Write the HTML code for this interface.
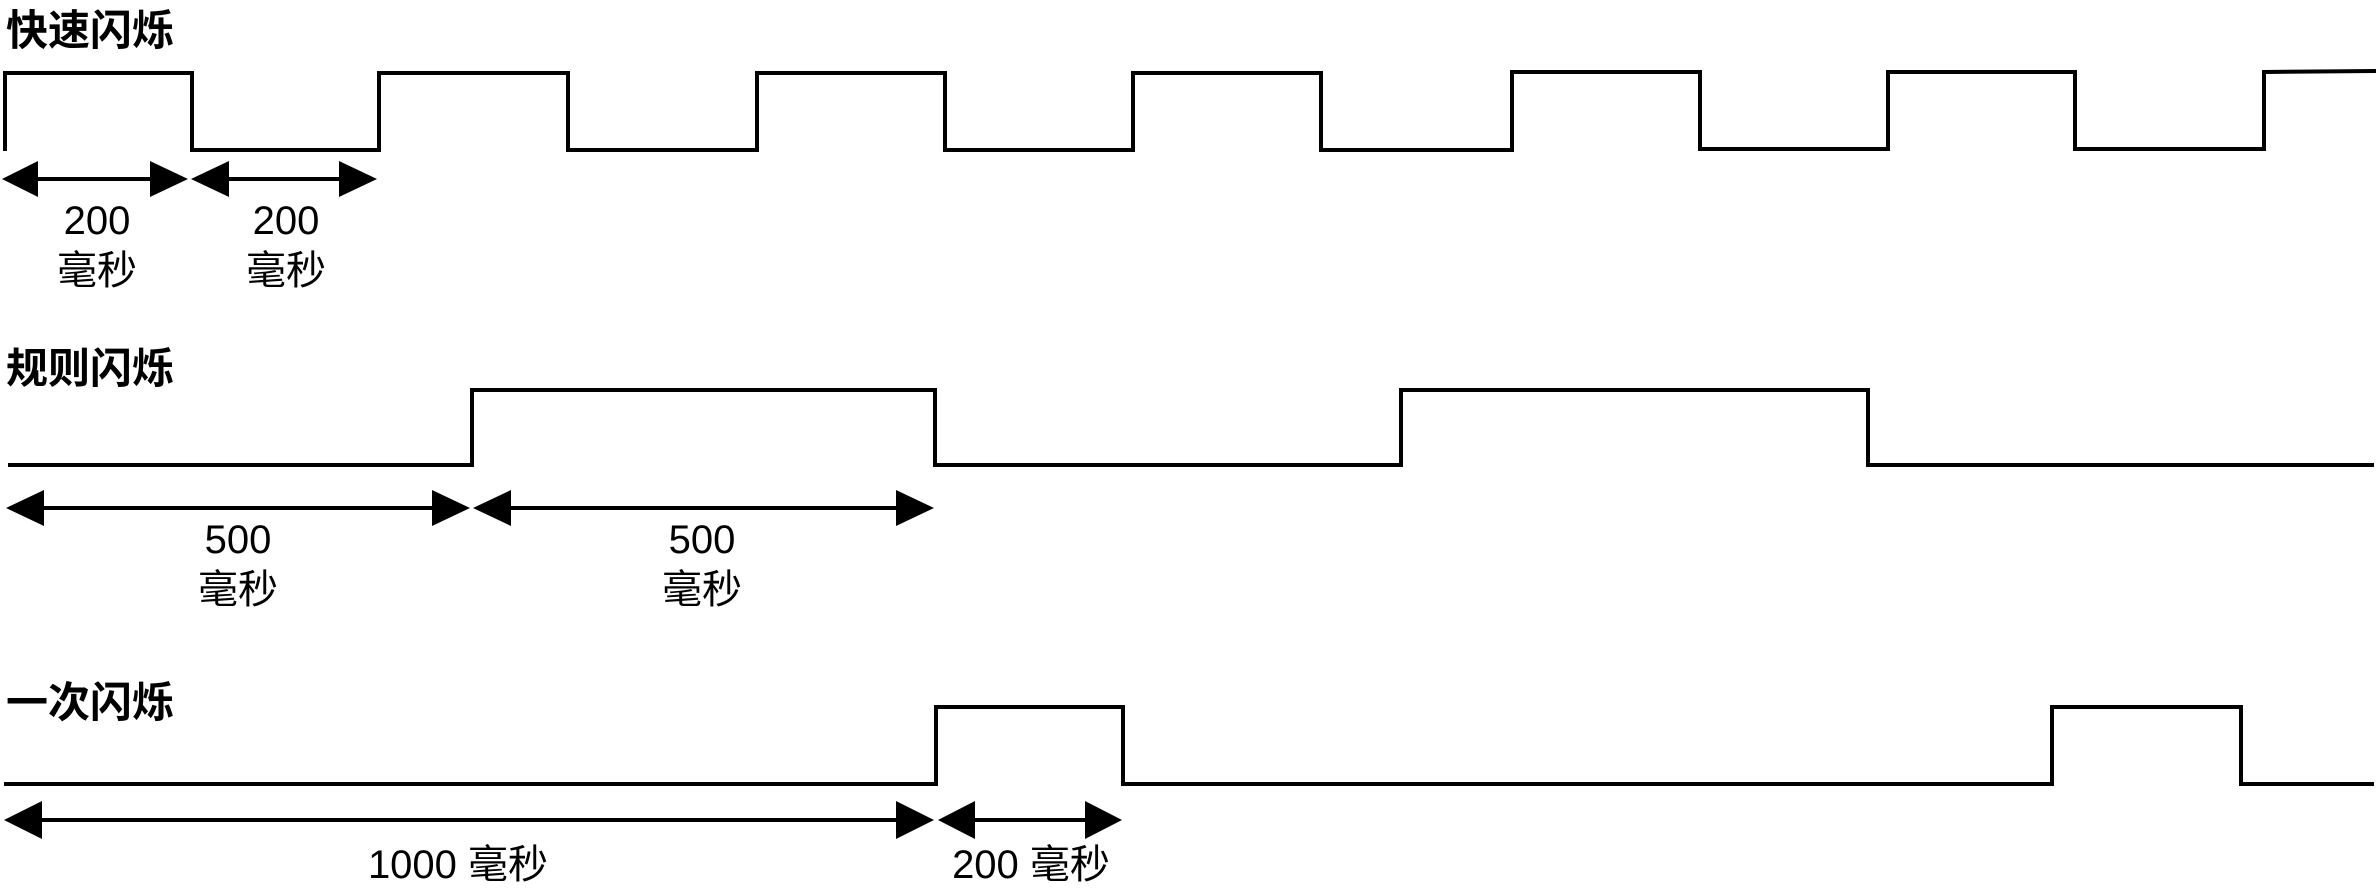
<!DOCTYPE html>
<html><head><meta charset="utf-8"><style>
html,body{margin:0;padding:0;background:#fff;}
svg{display:block;}
text{font-family:"Liberation Sans","Noto Sans CJK SC",sans-serif;fill:#000;}
.t{font-size:42px;font-weight:bold;}
.l{font-size:40px;text-anchor:middle;}
</style></head><body>
<svg width="2378" height="892" viewBox="0 0 2378 892" xmlns="http://www.w3.org/2000/svg">
<g fill="none" stroke="#000" stroke-width="4" stroke-linejoin="miter">
<polyline points="5,151 5,73 192,73 192,150 379,150 379,73 568,73 568,150 757,150 757,73 945,73 945,150 1133,150 1133,73 1321,73 1321,150 1512,150 1512,72 1700,72 1700,149 1888,149 1888,72 2075,72 2075,149 2264,149 2264,72 2376,71"/>
<polyline points="8,465 472,465 472,390 935,390 935,465 1401,465 1401,390 1868,390 1868,465 2374,465"/>
<polyline points="4,784 936,784 936,707 1123,707 1123,784 2052,784 2052,707 2241,707 2241,784 2374,784"/>
</g>
<g stroke="#000" stroke-width="4">
<line x1="30" y1="179" x2="160" y2="179"/>
<line x1="220" y1="179" x2="350" y2="179"/>
<line x1="35" y1="508" x2="440" y2="508"/>
<line x1="500" y1="508" x2="900" y2="508"/>
<line x1="35" y1="820" x2="900" y2="820"/>
<line x1="965" y1="820" x2="1090" y2="820"/>
</g>
<g fill="#000">
<polygon points="2,179 38,161 38,197"/><polygon points="188,179 150,161 150,197"/>
<polygon points="191,179 229,161 229,197"/><polygon points="377,179 339,161 339,197"/>
<polygon points="6,508 44,490 44,526"/><polygon points="470,508 432,490 432,526"/>
<polygon points="473,508 511,490 511,526"/><polygon points="934,508 896,490 896,526"/>
<polygon points="4,820 42,801 42,839"/><polygon points="934,820 896,801 896,839"/>
<polygon points="938,820 975,801 975,839"/><polygon points="1122,820 1085,801 1085,839"/>
</g>
<text class="t" x="6" y="45">快速闪烁</text>
<text class="t" x="6" y="383">规则闪烁</text>
<text class="t" x="6" y="717">一次闪烁</text>
<text class="l" x="97" y="234">200</text>
<text class="l" x="97" y="284">毫秒</text>
<text class="l" x="286" y="234">200</text>
<text class="l" x="286" y="284">毫秒</text>
<text class="l" x="238" y="553">500</text>
<text class="l" x="238" y="603">毫秒</text>
<text class="l" x="702" y="553">500</text>
<text class="l" x="702" y="603">毫秒</text>
<text class="l" x="458" y="878">1000 毫秒</text>
<text class="l" x="1031" y="878">200 毫秒</text>
</svg>
</body></html>
